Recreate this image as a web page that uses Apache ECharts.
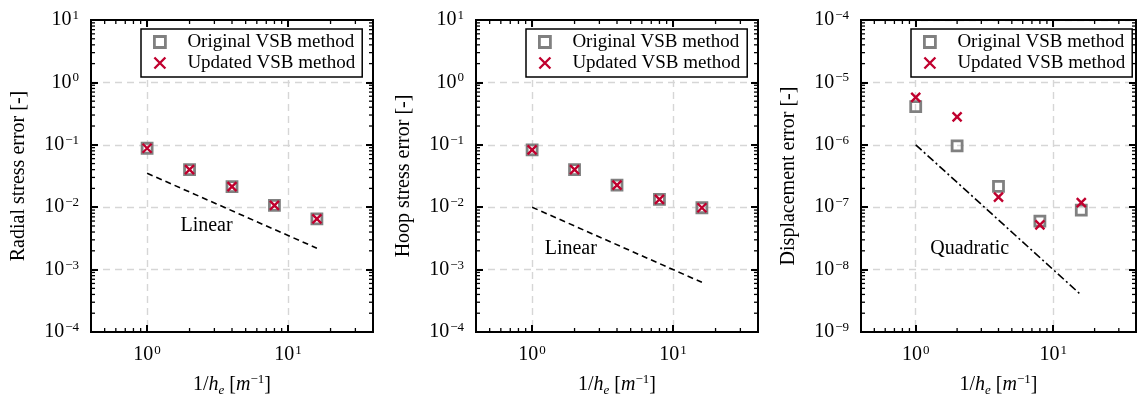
<!DOCTYPE html>
<html><head><meta charset="utf-8">
<script src="https://cdn.jsdelivr.net/npm/echarts@6/dist/echarts.min.js"></script>
<style>html,body{margin:0;padding:0;background:#fff}#c{width:1139px;height:402px}</style>
</head><body><div id="c"></div>
<script>
// ---------- data ----------
const xValues = [1, 2, 4, 8, 16];
const radialOriginal = [0.088, 0.040, 0.0213, 0.0107, 0.0065];
const radialUpdated  = [0.088, 0.040, 0.0213, 0.0107, 0.0065];
const hoopOriginal   = [0.083, 0.040, 0.0226, 0.0133, 0.0098];
const hoopUpdated    = [0.083, 0.040, 0.0226, 0.0133, 0.0098];
const dispOriginal   = [4.1e-6, 9.6e-7, 2.15e-7, 6.0e-8, 9.0e-8];
const dispUpdated    = [5.75e-6, 2.8e-6, 1.45e-7, 5.2e-8, 1.18e-7];
const refX = [1, 16];
const radialRefY = [0.035, 0.0022];
const hoopRefY = [0.01, 0.000625];
const dispRefY = [1e-6, 3.9e-9];
const refLabels = ['Linear', 'Linear', 'Quadratic'];
const refLabelX = [2.64, 1.88, 2.47];
const refLabelY = [0.005, 0.00218, 2.18e-8];
const yTitles = ['Radial stress error [-]', 'Hoop stress error [-]', 'Displacement error [-]'];
const yMins = [1e-4, 1e-4, 1e-9];
const yMaxs = [10, 10, 1e-4];
const xMin = 0.4, xMax = 40;
const seriesNames = ['Original VSB method', 'Updated VSB method'];

// ---------- layout/style ----------
const FONT = '"Liberation Serif", "DejaVu Serif", serif';
const GREY = '#808080', RED = '#c0002e';
const gridLefts = [91, 476, 861];
const GT = 20, GW = 282, GH = 320;
const panels = [
  {orig: radialOriginal, upd: radialUpdated, ref: radialRefY, dash: [6, 4]},
  {orig: hoopOriginal, upd: hoopUpdated, ref: hoopRefY, dash: [6, 4]},
  {orig: dispOriginal, upd: dispUpdated, ref: dispRefY, dash: [8, 3, 2, 3]}
];
const CROSS = 'path://M0,0L10,10M0,10L10,0';

function powLabel(v) {
  const e = Math.log10(v), r = Math.round(e);
  if (Math.abs(e - r) > 1e-6) return '';
  return '{b|10}{s|' + (r < 0 ? '\u2212' + (-r) : r) + '}';
}
const labelRich = {
  b: {fontFamily: FONT, fontSize: 20, color: '#000', lineHeight: 22},
  s: {fontFamily: FONT, fontSize: 13, color: '#000', verticalAlign: 'top', lineHeight: 22, padding: [0, 0, 4, 1]}
};
function minorValues(lo, hi) {
  const out = [];
  for (let k = Math.floor(Math.log10(lo)) - 1; k <= Math.ceil(Math.log10(hi)); k++) {
    for (let m = 2; m <= 9; m++) {
      const v = m * Math.pow(10, k);
      if (v > lo * 1.0001 && v < hi * 0.9999) out.push(v);
    }
  }
  return out;
}

const grid = [], xAxis = [], yAxis = [], series = [], legend = [];
panels.forEach((p, i) => {
  grid.push({left: gridLefts[i], top: GT, width: GW, height: GH, show: true,
    borderColor: '#000', borderWidth: 2, backgroundColor: 'transparent'});
  const tick = {show: true, inside: true, length: 7, lineStyle: {color: '#000', width: 2}};
  xAxis.push({gridIndex: i, type: 'log', min: xMin, max: xMax, position: 'bottom',
    axisLine: {show: true, onZero: false, lineStyle: {color: '#000', width: 2}},
    axisTick: tick,
    axisLabel: {formatter: powLabel, rich: labelRich, margin: 12},
    splitLine: {show: true, showMinLine: false, showMaxLine: false,
      lineStyle: {color: '#d6d6d6', width: 1.4, type: [7, 5]}},
    name: '{n|1/}{i|h}{sub|e}{n| [}{i|m}{sup|\u22121}{n|]}',
    nameLocation: 'middle', nameGap: 41,
    nameTextStyle: {rich: {
      n: {fontFamily: FONT, fontSize: 20, color: '#000', lineHeight: 24},
      i: {fontFamily: FONT, fontSize: 20, fontStyle: 'italic', color: '#000', lineHeight: 24},
      sub: {fontFamily: FONT, fontSize: 13, fontStyle: 'italic', color: '#000', verticalAlign: 'bottom', lineHeight: 24},
      sup: {fontFamily: FONT, fontSize: 13, color: '#000', verticalAlign: 'top', lineHeight: 24}
    }}
  });
  xAxis.push({gridIndex: i, type: 'log', min: xMin, max: xMax, position: 'top',
    axisLine: {show: true, onZero: false, lineStyle: {color: '#000', width: 2}},
    axisTick: tick, axisLabel: {show: false}, splitLine: {show: false}});
  yAxis.push({gridIndex: i, type: 'log', min: yMins[i], max: yMaxs[i], position: 'left',
    axisLine: {show: true, onZero: false, lineStyle: {color: '#000', width: 2}},
    axisTick: tick,
    axisLabel: {formatter: powLabel, rich: labelRich, margin: 12},
    splitLine: {show: true, showMinLine: false, showMaxLine: false,
      lineStyle: {color: '#d6d6d6', width: 1.4, type: [7, 5]}},
    name: yTitles[i], nameLocation: 'middle', nameGap: 62,
    nameTextStyle: {fontFamily: FONT, fontSize: 20, color: '#000'}
  });
  yAxis.push({gridIndex: i, type: 'log', min: yMins[i], max: yMaxs[i], position: 'right',
    axisLine: {show: true, onZero: false, lineStyle: {color: '#000', width: 2}},
    axisTick: tick, axisLabel: {show: false}, splitLine: {show: false}});

  const xi = 2 * i, yi = 2 * i;
  series.push({name: seriesNames[0], type: 'scatter', xAxisIndex: xi, yAxisIndex: yi,
    symbol: 'rect', symbolSize: 10, z: 3,
    itemStyle: {color: 'rgba(255,255,255,0)', borderColor: GREY, borderWidth: 2.8, opacity: 1},
    data: xValues.map((x, j) => [x, p.orig[j]])});
  series.push({name: seriesNames[1], type: 'scatter', xAxisIndex: xi, yAxisIndex: yi,
    symbol: CROSS, symbolSize: 9, z: 4,
    itemStyle: {color: 'rgba(255,255,255,0)', borderColor: RED, borderWidth: 2.4, opacity: 1},
    data: xValues.map((x, j) => [x, p.upd[j]])});
  series.push({name: 'ref' + i, type: 'line', xAxisIndex: xi, yAxisIndex: yi,
    symbol: 'none', z: 2,
    lineStyle: {color: '#000', width: 1.6, type: p.dash},
    data: refX.map((x, j) => [x, p.ref[j]])});
  series.push({name: 'lbl' + i, type: 'scatter', xAxisIndex: xi, yAxisIndex: yi,
    symbolSize: 1, itemStyle: {color: 'rgba(0,0,0,0)'}, z: 5, silent: true,
    label: {show: true, position: 'inside', formatter: refLabels[i],
      fontFamily: FONT, fontSize: 20, color: '#000', opacity: 1, textBorderWidth: 0},
    data: [[refLabelX[i], refLabelY[i]]]});
  const ymid = Math.sqrt(yMins[i] * yMaxs[i]);
  const minorData = minorValues(xMin, xMax).map(v => [v, ymid, 0])
    .concat(minorValues(yMins[i], yMaxs[i]).map(v => [1, v, 1]));
  series.push({name: 'minor' + i, type: 'custom', xAxisIndex: xi, yAxisIndex: yi,
    silent: true, z: 6, clip: false,
    renderItem: function (params, api) {
      const cs = params.coordSys;
      const kind = api.value(2);
      const st = {stroke: '#000', lineWidth: 1.3};
      const L = 4;
      if (kind === 0) {
        const px = api.coord([api.value(0), api.value(1)])[0];
        return {type: 'group', children: [
          {type: 'line', shape: {x1: px, y1: cs.y + cs.height, x2: px, y2: cs.y + cs.height - L}, style: st},
          {type: 'line', shape: {x1: px, y1: cs.y, x2: px, y2: cs.y + L}, style: st}
        ]};
      } else {
        const py = api.coord([api.value(0), api.value(1)])[1];
        return {type: 'group', children: [
          {type: 'line', shape: {x1: cs.x, y1: py, x2: cs.x + L, y2: py}, style: st},
          {type: 'line', shape: {x1: cs.x + cs.width, y1: py, x2: cs.x + cs.width - L, y2: py}, style: st}
        ]};
      }
    },
    data: minorData});

  legend.push({show: true, orient: 'vertical', left: gridLefts[i] + 50, top: 29,
    padding: [3, 7, 4, 12], itemGap: 1, itemWidth: 11, itemHeight: 11,
    borderColor: '#000', borderWidth: 1.5, borderRadius: 0, backgroundColor: '#fff',
    selectedMode: false,
    textStyle: {fontFamily: FONT, fontSize: 19, color: '#000', lineHeight: 20, padding: [0, 0, 0, 17]},
    data: [
      {name: seriesNames[0], icon: 'rect', itemStyle: {color: 'rgba(255,255,255,0)', borderColor: GREY, borderWidth: 2.8}},
      {name: seriesNames[1], icon: CROSS, itemStyle: {color: 'rgba(255,255,255,0)', borderColor: RED, borderWidth: 2.4}}
    ]});
});

const chart = echarts.init(document.getElementById('c'), null, {renderer: 'canvas'});
chart.setOption({animation: false, backgroundColor: '#fff', grid, xAxis, yAxis, series, legend});
</script></body></html>
